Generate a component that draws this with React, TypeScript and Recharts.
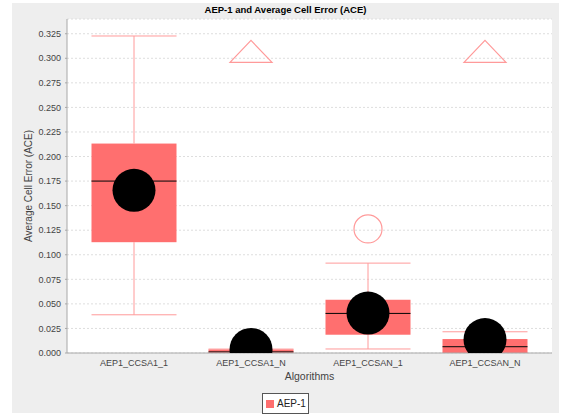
import React from 'react';
import { ComposedChart, Bar, Scatter, XAxis, YAxis, CartesianGrid } from 'recharts';

// box statistics, one entry per algorithm
const algorithms = ['AEP1_CCSA1_1', 'AEP1_CCSA1_N', 'AEP1_CCSAN_1', 'AEP1_CCSAN_N'];
const minValues = [0.0389, 0.0, 0.0041, 0.0];
const q1Values = [0.1128, 0.0003, 0.0186, 0.0];
const medianValues = [0.175, 0.0011, 0.0403, 0.0064];
const q3Values = [0.2132, 0.0037, 0.0542, 0.0142];
const maxValues = [0.3227, 0.004, 0.0915, 0.0216];
const meanValues = [0.1656, 0.0036, 0.0407, 0.0137];
const outlierValues = [null, null, 0.1263, null];
const farOutValues = [null, 0.307, null, 0.307];
const yTicks = [0, 0.025, 0.05, 0.075, 0.1, 0.125, 0.15, 0.175, 0.2, 0.225, 0.25, 0.275, 0.3, 0.325];

const BOX = '#ff6f6f';
const WHISKER = '#ff9a9a';
const FONT = '"Liberation Sans", Arial, sans-serif';

const data = algorithms.map((name, i) => ({
  name,
  base: minValues[i],
  lowWhisker: q1Values[i] - minValues[i],
  lowBox: medianValues[i] - q1Values[i],
  highBox: q3Values[i] - medianValues[i],
  highWhisker: maxValues[i] - q3Values[i],
  mean: meanValues[i],
  outlier: outlierValues[i],
  farOut: farOutValues[i],
}));

const Empty = () => <g />;

const LowWhisker = (p: any) => {
  const cx = p.x + p.width / 2;
  const bottom = p.y + p.height;
  return (
    <g>
      <line x1={cx} x2={cx} y1={p.y} y2={bottom} stroke={WHISKER} />
      <line x1={p.x} x2={p.x + p.width} y1={bottom} y2={bottom} stroke={WHISKER} />
    </g>
  );
};

const HighWhisker = (p: any) => {
  const cx = p.x + p.width / 2;
  return (
    <g>
      <line x1={cx} x2={cx} y1={p.y} y2={p.y + p.height} stroke={WHISKER} />
      <line x1={p.x} x2={p.x + p.width} y1={p.y} y2={p.y} stroke={WHISKER} />
    </g>
  );
};

const LowBox = (p: any) => <rect x={p.x} y={p.y} width={p.width} height={Math.max(p.height, 0)} fill={BOX} />;

const HighBox = (p: any) => (
  <g>
    <rect x={p.x} y={p.y} width={p.width} height={Math.max(p.height, 0)} fill={BOX} />
    <line x1={p.x} x2={p.x + p.width} y1={p.y + p.height} y2={p.y + p.height} stroke="#000" />
  </g>
);

const MeanDot = (p: any) => (p.payload?.mean == null ? <g /> : <circle cx={p.cx} cy={p.cy} r={21.5} fill="#000" />);

const OutlierDot = (p: any) =>
  p.payload?.outlier == null ? <g /> : <circle cx={p.cx} cy={p.cy} r={14} fill="none" stroke={WHISKER} strokeWidth={1.2} />;

const FarOutMark = (p: any) => {
  if (p.payload?.farOut == null) return <g />;
  const { cx, cy } = p;
  return (
    <polygon
      points={`${cx},${cy - 11} ${cx + 21},${cy + 11} ${cx - 21},${cy + 11}`}
      fill="none"
      stroke={WHISKER}
      strokeWidth={1.2}
    />
  );
};

export default function App() {
  return (
    <div style={{ position: 'absolute', left: 0, top: 0, width: 562, height: 415, background: '#fff', fontFamily: FONT }}>
      <div style={{ position: 'absolute', left: 12, top: 3, width: 547, height: 410, background: '#eeeeee' }}>
        <div
          style={{
            position: 'absolute',
            left: 0,
            top: 1,
            width: 547,
            height: 12,
            lineHeight: '12px',
            textAlign: 'center',
            fontWeight: 'bold',
            fontSize: 9.5,
            color: '#000',
            zIndex: 1,
          }}
        >
          AEP-1 and Average Cell Error (ACE)
        </div>
        <ComposedChart
          width={547}
          height={410}
          data={data}
          margin={{ top: 16, right: 7, left: 0, bottom: 30 }}
          barSize={85}
        >
          <CartesianGrid vertical={false} fill="#fff" stroke="#dedede" strokeDasharray="2 2" />
          <XAxis
            dataKey="name"
            type="category"
            padding={{ left: 8.5, right: 8.5 }}
            height={30}
            tickSize={0}
            tickMargin={7}
            tickLine={false}
            axisLine={{ stroke: '#a8a8a8' }}
            tick={{ fill: '#444', fontSize: 9, fontFamily: FONT }}
            interval={0}
            label={{
              content: (lp: any) => {
                const vb = lp.viewBox;
                return (
                  <text x={vb.x + vb.width / 2} y={vb.y + 27} textAnchor="middle" fontSize={10.5} fill="#444" fontFamily={FONT}>
                    Algorithms
                  </text>
                );
              },
            }}
          />
          <XAxis
            xAxisId="top"
            dataKey="name"
            orientation="top"
            height={0}
            tick={false}
            tickLine={false}
            axisLine={{ stroke: '#cfcfcf' }}
          />
          <YAxis
            type="number"
            domain={[0, 0.34]}
            ticks={yTicks}
            allowDataOverflow
            width={55}
            tickSize={2}
            tickMargin={4}
            tickLine={{ stroke: '#a8a8a8' }}
            axisLine={{ stroke: '#a8a8a8' }}
            tick={{ fill: '#444', fontSize: 9, fontFamily: FONT }}
            tickFormatter={(v: number) => v.toFixed(3)}
            label={{
              content: (lp: any) => {
                const vb = lp.viewBox;
                const x = vb.x + 16;
                const y = vb.y + vb.height / 2;
                return (
                  <text
                    x={x}
                    y={y}
                    transform={`rotate(-90 ${x} ${y})`}
                    textAnchor="middle"
                    dominantBaseline="central"
                    fontSize={10}
                    fill="#444"
                    fontFamily={FONT}
                  >
                    Average Cell Error (ACE)
                  </text>
                );
              },
            }}
          />
          <YAxis
            yAxisId="right"
            orientation="right"
            width={0}
            tick={false}
            tickLine={false}
            axisLine={{ stroke: '#cfcfcf' }}
          />
          <Bar dataKey="base" stackId="box" shape={<Empty />} isAnimationActive={false} />
          <Bar dataKey="lowWhisker" stackId="box" shape={LowWhisker} isAnimationActive={false} />
          <Bar dataKey="lowBox" stackId="box" shape={LowBox} isAnimationActive={false} />
          <Bar dataKey="highBox" stackId="box" shape={HighBox} isAnimationActive={false} />
          <Bar dataKey="highWhisker" stackId="box" shape={HighWhisker} isAnimationActive={false} />
          <Scatter dataKey="outlier" shape={OutlierDot} isAnimationActive={false} />
          <Scatter dataKey="farOut" shape={FarOutMark} isAnimationActive={false} />
          <Scatter dataKey="mean" shape={MeanDot} isAnimationActive={false} />
        </ComposedChart>
      </div>
      <div
        style={{
          position: 'absolute',
          left: 262,
          top: 393,
          width: 47,
          height: 21,
          boxSizing: 'border-box',
          border: '1px solid #555',
          background: '#fff',
          display: 'flex',
          alignItems: 'center',
          fontSize: 10,
          color: '#222',
        }}
      >
        <span style={{ display: 'inline-block', width: 8, height: 8, background: BOX, marginLeft: 3, marginRight: 3 }} />
        <span>AEP-1</span>
      </div>
    </div>
  );
}
